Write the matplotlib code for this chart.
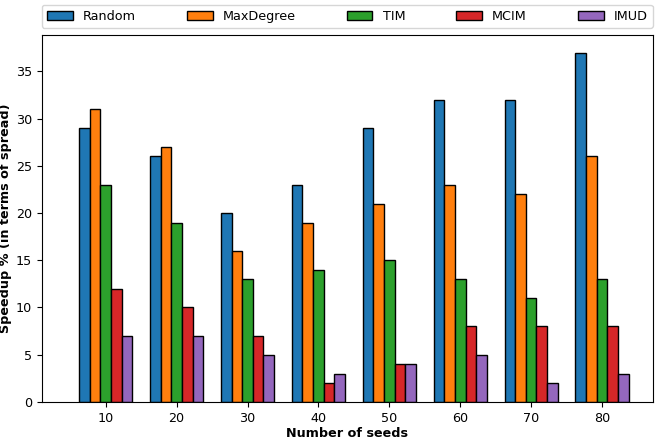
import matplotlib
matplotlib.use('Agg')
import matplotlib.pyplot as plt
import numpy as np

seeds = [10, 20, 30, 40, 50, 60, 70, 80]
random_sp = [29, 26, 20, 23, 29, 32, 32, 37]
maxdeg_sp = [31, 27, 16, 19, 21, 23, 22, 26]
tim_sp = [23, 19, 13, 14, 15, 13, 11, 13]
mcim_sp = [12, 10, 7, 2, 4, 8, 8, 8]
imud_sp = [7, 7, 5, 3, 4, 5, 2, 3]

series = [('Random', random_sp), ('MaxDegree', maxdeg_sp), ('TIM', tim_sp),
          ('MCIM', mcim_sp), ('IMUD', imud_sp)]

plt.rcParams['font.size'] = 9.2

fig, ax = plt.subplots(figsize=(6.55, 4.45), dpi=100)
fig.subplots_adjust(left=0.064, right=0.997, bottom=0.097, top=0.921)

x = np.arange(len(seeds))
w = 0.15
for i, (name, vals) in enumerate(series):
    ax.bar(x + (i - 2) * w, vals, w, label=name, edgecolor='black', linewidth=1)

ax.set_xticks(x)
ax.set_xticklabels(seeds)
ax.set_xlim(-0.9, 7.72)
ax.set_xlabel('Number of seeds', fontweight='bold', labelpad=2)
ax.set_ylabel('Speedup % (in terms of spread)', fontweight='bold', labelpad=3)
ax.legend(loc='lower left', bbox_to_anchor=(0, 1.02, 1, 0.1), mode='expand',
          ncol=5, borderaxespad=0)

fig.savefig('out.png', dpi=100)
